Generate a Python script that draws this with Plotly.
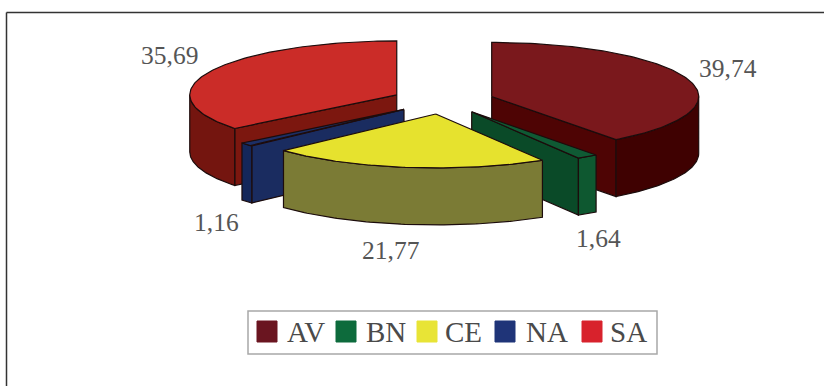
import numpy as np
import plotly.graph_objects as go

# Share of each class, clockwise from twelve o'clock
categories = ["AV", "BN", "CE", "NA", "SA"]
values = [39.74, 1.64, 21.77, 1.16, 35.69]

top_colors = ["#7a181c", "#0f5a34", "#e6e22e", "#1c2f66", "#cb2c28"]
rim_colors = ["#3f0101", "#0e5830", "#7b7b35", "#14275a", "#74150f"]
cut_colors = ["#4e0404", "#0a4a28", "#7b7b35", "#1a2c60", "#7c170f"]
legend_colors = ["#6a1520", "#0d6b3c", "#e8e436", "#1f3478", "#d8222c"]

# Pie projection, in page pixels
CX, CY = 443.0, 100.7
RX, RY = 207.0, 54.0
DEPTH = 57.0
EXPLODE = 0.248
EDGE = "#1c0c0c"


def project(theta_deg, radius=1.0, ox=CX, oy=CY, drop=0.0):
    t = np.radians(theta_deg)
    return ox + radius * RX * np.sin(t), oy - radius * RY * np.cos(t) + drop


def face(fig, xs, ys, fill):
    fig.add_trace(go.Scatter(
        x=list(xs), y=list(ys), mode="lines", fill="toself", fillcolor=fill,
        line=dict(color=EDGE, width=1.2), hoverinfo="skip", showlegend=False,
    ))


fig = go.Figure()

# Slice angles accumulate from the values
ends = np.cumsum(values) / sum(values) * 360.0
starts = np.concatenate([[0.0], ends[:-1]])

# Back slices first so that the front ones overlap them
for i in [0, 4, 1, 3, 2]:
    a0, a1 = starts[i], ends[i]
    mid = (a0 + a1) / 2
    ox, oy = project(mid, EXPLODE)

    # Radial cut faces that turn towards the viewer
    for edge_angle, sign in ((a0, -1), (a1, 1)):
        t = np.radians(edge_angle)
        if sign * -np.sin(t) < -1e-6:
            px, py = project(edge_angle, 1.0, ox, oy)
            face(fig, [ox, px, px, ox, ox],
                 [oy, py, py + DEPTH, oy + DEPTH, oy], cut_colors[i])

    # Outer rim, front half of the ellipse only
    r0, r1 = max(a0, 90.0), min(a1, 270.0)
    if r1 > r0:
        arc = np.linspace(r0, r1, 80)
        px, py = project(arc, 1.0, ox, oy)
        face(fig, np.concatenate([px, px[::-1], px[:1]]),
             np.concatenate([py, py[::-1] + DEPTH, py[:1]]), rim_colors[i])

    # Top surface
    arc = np.linspace(a0, a1, 120)
    px, py = project(arc, 1.0, ox, oy)
    face(fig, np.concatenate([[ox], px, [ox]]),
         np.concatenate([[oy], py, [oy]]), top_colors[i])

# Frame around the chart, open at the right and the bottom
shapes = [
    dict(type="line", x0=6.5, y0=12.5, x1=824, y1=12.5, line=dict(color="#333333", width=1.5)),
    dict(type="line", x0=6.5, y0=12.5, x1=6.5, y1=386, line=dict(color="#333333", width=1.5)),
    dict(type="rect", x0=248, y0=311, x1=657, y1=354,
         line=dict(color="#a8a8a8", width=1.5), fillcolor="white"),
]

annotations = []
label_positions = [(728, 68), (598, 238), (391, 250), (216, 222), (169, 55)]
for value, (lx, ly) in zip(values, label_positions):
    annotations.append(dict(
        x=lx, y=ly, text=f"{value:.2f}".replace(".", ","), showarrow=False,
        font=dict(family="Liberation Serif", size=25.5, color="#555555"),
    ))

# Legend row
swatch_left = [257, 336, 417, 495, 582]
text_left = [285, 364, 443, 524, 608]
for name, color, sx, tx in zip(categories, legend_colors, swatch_left, text_left):
    shapes.append(dict(type="rect", x0=sx, y0=321, x1=sx + 20, y1=342,
                       line=dict(color=color, width=1), fillcolor=color))
    annotations.append(dict(
        x=tx, y=332, text=name, showarrow=False, xanchor="left",
        font=dict(family="Liberation Serif", size=29, color="#4a4a4a"),
    ))

fig.update_layout(
    width=824, height=386, margin=dict(l=0, r=0, t=0, b=0),
    paper_bgcolor="white", plot_bgcolor="white",
    xaxis=dict(range=[0, 824], visible=False, fixedrange=True),
    yaxis=dict(range=[386, 0], visible=False, fixedrange=True),
    shapes=shapes, annotations=annotations,
)

fig.write_html("out.html")
